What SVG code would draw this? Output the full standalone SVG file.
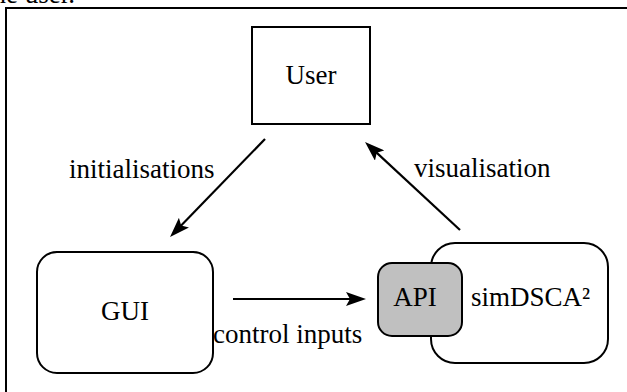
<svg xmlns="http://www.w3.org/2000/svg" width="627" height="392" viewBox="0 0 627 392">
<style>
text{font-family:"Liberation Serif","Times New Roman",serif;font-size:27px;fill:#000}
.box{fill:#fff;stroke:#000;stroke-width:2}
.conn{stroke:#000;stroke-width:2.2;fill:none}
</style>
<defs>
<marker id="ah" markerUnits="userSpaceOnUse" markerWidth="20" markerHeight="14" refX="12" refY="7" orient="auto">
<path d="M0,0 L20,7 L0,14 L4,7 z" fill="#000"/>
</marker>
</defs>
<rect width="627" height="392" fill="#fff"/>
<text x="-15" y="3">the user.</text>
<path d="M6,392 V8 H627" fill="none" stroke="#000" stroke-width="2"/>
<g id="user">
<rect class="box" x="252" y="27" width="118" height="97"/>
<text x="311" y="84" text-anchor="middle">User</text>
</g>
<g id="gui">
<rect class="box" x="37" y="252" width="176" height="121" rx="20"/>
<text x="125" y="320" text-anchor="middle">GUI</text>
</g>
<g id="simdsca">
<rect class="box" x="431" y="243" width="177" height="120" rx="24"/>
<text x="471" y="306">simDSCA²</text>
</g>
<g id="api">
<rect class="box" x="378" y="263" width="84" height="73" rx="14" style="fill:#c0c0c0"/>
<text x="415" y="306" text-anchor="middle">API</text>
</g>
<g id="connectors">
<line class="conn" x1="265" y1="139" x2="175.6" y2="231.3" marker-end="url(#ah)"/>
<line class="conn" x1="460" y1="230" x2="370.9" y2="147.4" marker-end="url(#ah)"/>
<line class="conn" x1="233" y1="299" x2="358" y2="299" marker-end="url(#ah)"/>
<text x="69" y="178">initialisations</text>
<text x="414" y="177">visualisation</text>
<text x="213" y="343">control inputs</text>
</g>
</svg>
